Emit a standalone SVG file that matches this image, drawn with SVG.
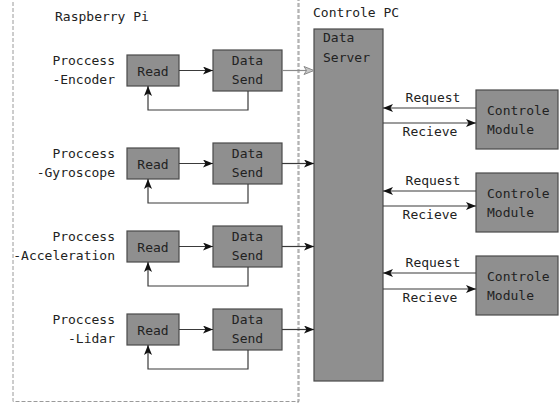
<svg xmlns="http://www.w3.org/2000/svg" width="559" height="403" viewBox="0 0 559 403">
<style>
.box{fill:#8f8f8f;stroke:#4a4a4a;stroke-width:1.2}
.cont{fill:none;stroke:#9a9a9a;stroke-width:1;stroke-dasharray:4 2}
.t{font-family:"DejaVu Sans Mono","Liberation Mono",monospace;font-size:13px;fill:#222}
.m{text-anchor:middle}
.e{text-anchor:end}
.ln{fill:none;stroke:#3a3a3a;stroke-width:1.2}
.lg{fill:none;stroke:#8a8a8a;stroke-width:1.2}
</style>
<defs>
<marker id="arr" viewBox="0 0 10 8" refX="10" refY="4" markerWidth="10" markerHeight="8" orient="auto" markerUnits="userSpaceOnUse">
<path d="M0,0 L10,4 L0,8 L2.5,4 z" fill="#111"/>
</marker>
<marker id="arrg" viewBox="0 0 12 10" refX="11" refY="5" markerWidth="12" markerHeight="10" orient="auto" markerUnits="userSpaceOnUse">
<path d="M1,1 L11,5 L1,9 L3.5,5 z" fill="#c8c8c8" stroke="#8a8a8a" stroke-width="1"/>
</marker>
</defs>
<rect width="559" height="403" fill="#fff"/>
<g id="raspberry-pi">
<rect class="cont" x="13" y="-5" width="286" height="406.5"/>
<text class="t" x="55" y="21">Raspberry Pi</text>
</g>
<g id="controle-pc">
<rect class="cont" x="298" y="-5" width="270" height="420"/>
<text class="t" x="313" y="17">Controle PC</text>
</g>
<g id="labels">
<text class="t e" x="115" y="65">Proccess</text>
<text class="t e" x="115" y="84">-Encoder</text>
<text class="t e" x="115" y="158">Proccess</text>
<text class="t e" x="115" y="177">-Gyroscope</text>
<text class="t e" x="115" y="241">Proccess</text>
<text class="t e" x="115" y="260">-Acceleration</text>
<text class="t e" x="115" y="324">Proccess</text>
<text class="t e" x="115" y="343">-Lidar</text>
</g>
<g id="read1"><rect class="box" x="127" y="55" width="52" height="31"/><text class="t m" x="153" y="75.5">Read</text></g>
<g id="send1"><rect class="box" x="213" y="50" width="69" height="41"/><text class="t m" x="247.5" y="65">Data</text><text class="t m" x="247.5" y="84">Send</text></g>
<g id="read2"><rect class="box" x="127" y="148" width="52" height="31"/><text class="t m" x="153" y="168.5">Read</text></g>
<g id="send2"><rect class="box" x="213" y="143" width="69" height="41"/><text class="t m" x="247.5" y="158">Data</text><text class="t m" x="247.5" y="177">Send</text></g>
<g id="read3"><rect class="box" x="127" y="231" width="52" height="31"/><text class="t m" x="153" y="251.5">Read</text></g>
<g id="send3"><rect class="box" x="213" y="226" width="69" height="41"/><text class="t m" x="247.5" y="241">Data</text><text class="t m" x="247.5" y="260">Send</text></g>
<g id="read4"><rect class="box" x="127" y="314" width="52" height="31"/><text class="t m" x="153" y="334.5">Read</text></g>
<g id="send4"><rect class="box" x="213" y="309" width="69" height="41"/><text class="t m" x="247.5" y="324">Data</text><text class="t m" x="247.5" y="343">Send</text></g>
<g id="data-server"><rect class="box" x="314" y="29" width="69" height="352"/><text class="t" x="323" y="42">Data</text><text class="t" x="323" y="62">Server</text></g>
<g id="module1"><rect class="box" x="476" y="90" width="82" height="59"/><text class="t" x="487" y="115">Controle</text><text class="t" x="487" y="134">Module</text></g>
<g id="module2"><rect class="box" x="476" y="173" width="82" height="59"/><text class="t" x="487" y="198">Controle</text><text class="t" x="487" y="217">Module</text></g>
<g id="module3"><rect class="box" x="476" y="256" width="82" height="59"/><text class="t" x="487" y="281">Controle</text><text class="t" x="487" y="300">Module</text></g>
<g id="connectors">
<path class="ln" d="M179,70.5 H213" marker-end="url(#arr)"/>
<path class="ln" d="M248,91 V110 H148 V86" marker-end="url(#arr)"/>
<path class="lg" d="M282,70.5 H314" marker-end="url(#arrg)"/>
<path class="ln" d="M179,163.5 H213" marker-end="url(#arr)"/>
<path class="ln" d="M248,184 V203 H148 V179" marker-end="url(#arr)"/>
<path class="ln" d="M282,163.5 H314" marker-end="url(#arr)"/>
<path class="ln" d="M179,246.5 H213" marker-end="url(#arr)"/>
<path class="ln" d="M248,267 V286 H148 V262" marker-end="url(#arr)"/>
<path class="ln" d="M282,246.5 H314" marker-end="url(#arr)"/>
<path class="ln" d="M179,329.5 H213" marker-end="url(#arr)"/>
<path class="ln" d="M248,350 V369 H148 V345" marker-end="url(#arr)"/>
<path class="ln" d="M282,329.5 H314" marker-end="url(#arr)"/>
<path class="ln" d="M476,108 H383" marker-end="url(#arr)"/>
<path class="ln" d="M383,123 H476" marker-end="url(#arr)"/>
<path class="ln" d="M476,191 H383" marker-end="url(#arr)"/>
<path class="ln" d="M383,206 H476" marker-end="url(#arr)"/>
<path class="ln" d="M476,273 H383" marker-end="url(#arr)"/>
<path class="ln" d="M383,289 H476" marker-end="url(#arr)"/>
<text class="t m" x="433" y="102">Request</text>
<text class="t m" x="430" y="136">Recieve</text>
<text class="t m" x="433" y="185">Request</text>
<text class="t m" x="430" y="219">Recieve</text>
<text class="t m" x="433" y="267">Request</text>
<text class="t m" x="430" y="302">Recieve</text>
</g>
</svg>
